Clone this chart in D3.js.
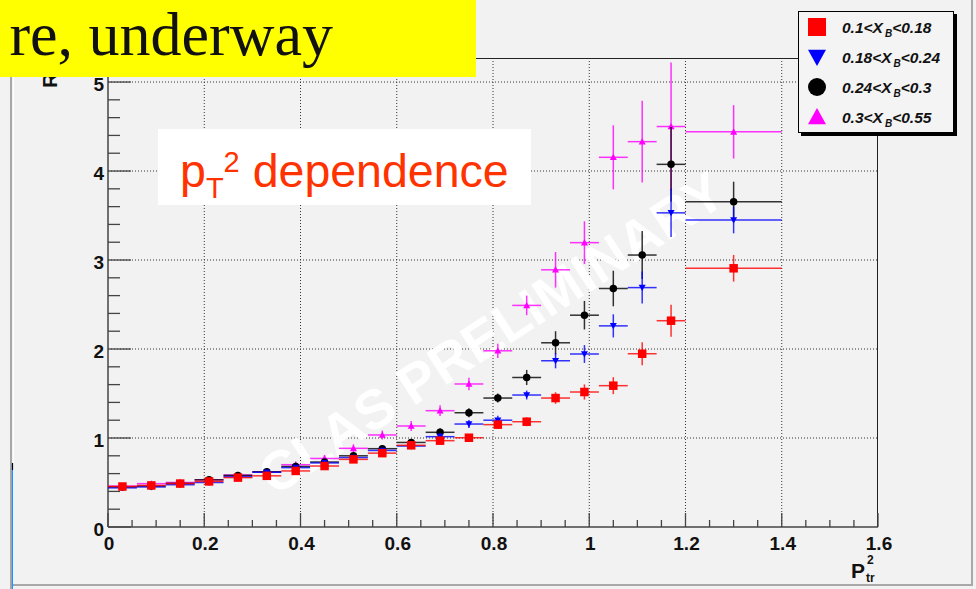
<!DOCTYPE html>
<html><head><meta charset="utf-8">
<script src="https://cdn.jsdelivr.net/npm/d3@7"></script>
<style>html,body{margin:0;padding:0;background:#f2f2f2;}svg{display:block;}</style>
</head><body>
<svg id="c" width="976" height="589"></svg>
<script>
// ---------------- data ----------------
const binCenters = [0.03,0.09,0.15,0.21,0.27,0.33,0.39,0.45,0.51,0.57,0.63,0.69,0.75,0.81,0.87,0.93,0.99,1.05,1.11,1.17,1.30];
const binHalfWidths = [0.03,0.03,0.03,0.03,0.03,0.03,0.03,0.03,0.03,0.03,0.03,0.03,0.03,0.03,0.03,0.03,0.03,0.03,0.03,0.03,0.10];

const seriesNames = ["0.1<X_B<0.18","0.18<X_B<0.24","0.24<X_B<0.3","0.3<X_B<0.55"];
const redValues   = [0.455,0.467,0.488,0.512,0.555,0.575,0.63,0.685,0.76,0.83,0.918,0.97,1.003,1.15,1.183,1.449,1.517,1.588,1.947,2.318,2.907];
const redErrors   = [0.02,0.02,0.02,0.02,0.02,0.02,0.02,0.025,0.025,0.03,0.03,0.035,0.04,0.045,0.05,0.065,0.085,0.095,0.13,0.18,0.15];
const blueValues  = [0.44,0.45,0.475,0.50,0.565,0.615,0.667,0.72,0.78,0.86,0.91,1.015,1.157,1.20,1.483,1.868,1.944,2.26,2.69,3.53,3.45];
const blueErrors  = [0.02,0.02,0.02,0.02,0.02,0.02,0.025,0.025,0.03,0.03,0.035,0.04,0.045,0.05,0.05,0.085,0.10,0.13,0.18,0.27,0.15];
const blackValues = [0.45,0.46,0.49,0.53,0.58,0.62,0.68,0.73,0.80,0.88,0.95,1.064,1.284,1.449,1.68,2.07,2.38,2.68,3.056,4.075,3.655];
const blackErrors = [0.02,0.02,0.02,0.02,0.02,0.025,0.025,0.03,0.03,0.035,0.04,0.045,0.05,0.05,0.085,0.13,0.16,0.20,0.27,0.42,0.225];
const pinkValues  = [0.46,0.487,0.50,0.53,0.584,0.62,0.70,0.77,0.884,1.034,1.135,1.307,1.607,1.98,2.49,2.89,3.195,4.154,4.33,4.50,4.44];
const pinkErrors  = [0.02,0.02,0.025,0.025,0.03,0.03,0.035,0.04,0.045,0.05,0.055,0.06,0.07,0.08,0.11,0.20,0.24,0.36,0.46,0.72,0.30];

const xTickLabels = ["0","0.2","0.4","0.6","0.8","1","1.2","1.4","1.6"];
const yTickLabels = ["0","1","2","3","4","5"];

// ---------------- layout ----------------
const svg = d3.select("#c");
const X0 = 108, X1 = 878, Y0 = 527, Y1 = 58;
const x = d3.scaleLinear().domain([0,1.6]).range([X0,X1]);
const y = d3.scaleLinear().domain([0,5.27]).range([Y0,Y1]);

// canvas background & borders
svg.append("rect").attr("x",0).attr("y",0).attr("width",976).attr("height",589).attr("fill","#f2f2f2");
svg.append("line").attr("x1",11).attr("x2",11).attr("y1",0).attr("y2",589).attr("stroke","#a8a8a8").attr("stroke-width",2);
svg.append("line").attr("x1",13.5).attr("x2",13.5).attr("y1",0).attr("y2",589).attr("stroke","#ffffff").attr("stroke-width",1);
svg.append("line").attr("x1",11).attr("x2",972).attr("y1",585).attr("y2",585).attr("stroke","#a8a8a8").attr("stroke-width",2);
svg.append("line").attr("x1",972).attr("x2",972).attr("y1",0).attr("y2",586).attr("stroke","#a8a8a8").attr("stroke-width",2);
svg.append("line").attr("x1",12.5).attr("x2",12.5).attr("y1",463).attr("y2",589).attr("stroke","#1e90ff").attr("stroke-width",1.2);
svg.append("line").attr("x1",12.5).attr("x2",12.5).attr("y1",463).attr("y2",470).attr("stroke","#000").attr("stroke-width",1.2);

// grid
const g = svg.append("g");
xTickLabels.forEach(t => {
  const v = +t;
  if (v > 0 && v < 1.6) g.append("line").attr("x1",x(v)).attr("x2",x(v)).attr("y1",Y1).attr("y2",Y0)
    .attr("stroke","#333").attr("stroke-width",1).attr("stroke-dasharray","1,2");
});
yTickLabels.forEach(t => {
  const v = +t;
  if (v > 0) g.append("line").attr("x1",X0).attr("x2",X1).attr("y1",y(v)).attr("y2",y(v))
    .attr("stroke","#333").attr("stroke-width",1).attr("stroke-dasharray","1,2");
});

// frame
svg.append("line").attr("x1",X0).attr("x2",X1).attr("y1",Y1+0.5).attr("y2",Y1+0.5).attr("stroke","#222").attr("stroke-width",1);
svg.append("line").attr("x1",X1-0.5).attr("x2",X1-0.5).attr("y1",Y1).attr("y2",Y0).attr("stroke","#222").attr("stroke-width",1);

// watermark
svg.append("text").attr("x",492).attr("y",352)
  .attr("transform","rotate(-33,492,334)")
  .attr("text-anchor","middle")
  .attr("font-family","Liberation Sans, Arial, sans-serif").attr("font-weight","bold").attr("font-size",55)
  .attr("fill","#ffffff").attr("fill-opacity",0.95)
  .text("CLAS PRELIMINARY");

// axes ticks
const ax = svg.append("g");
ax.append("line").attr("x1",X0).attr("x2",X1).attr("y1",Y0).attr("y2",Y0).attr("stroke","#444").attr("stroke-width",1.5);
ax.append("line").attr("x1",X0).attr("x2",X0).attr("y1",Y1).attr("y2",Y0).attr("stroke","#444").attr("stroke-width",1.5);
const xMinor = d3.range(0,1.6001,0.05);
xMinor.forEach((v,i) => {
  const major = (i % 4 === 0);
  ax.append("line").attr("x1",x(v)).attr("x2",x(v)).attr("y1",Y0).attr("y2",Y0-(major?14:7))
    .attr("stroke","#444").attr("stroke-width",1.3);
});
const yMinor = d3.range(0,5.27,0.2);
yMinor.forEach((v,i) => {
  const major = (i % 5 === 0);
  ax.append("line").attr("x1",X0).attr("x2",X0+(major?23:12)).attr("y1",y(v)).attr("y2",y(v))
    .attr("stroke","#444").attr("stroke-width",1.3);
});
xTickLabels.forEach(t => {
  ax.append("text").attr("x",x(+t)+1).attr("y",550).attr("text-anchor","middle")
    .attr("font-family","Liberation Sans, Arial, sans-serif").attr("font-weight","bold").attr("font-size",19)
    .attr("fill","#111").text(t);
});
yTickLabels.forEach(t => {
  ax.append("text").attr("x",104).attr("y",y(+t)+8.5).attr("text-anchor","end")
    .attr("font-family","Liberation Sans, Arial, sans-serif").attr("font-weight","bold").attr("font-size",19)
    .attr("fill","#111").text(t);
});
// axis titles
ax.append("text").attr("x",851).attr("y",578).attr("font-family","Liberation Sans, Arial, sans-serif").attr("font-weight","bold").attr("font-size",21).attr("fill","#111").text("P");
ax.append("text").attr("x",867).attr("y",564).attr("font-family","Liberation Sans, Arial, sans-serif").attr("font-weight","bold").attr("font-size",12).attr("fill","#111").text("2");
ax.append("text").attr("x",866).attr("y",582).attr("font-family","Liberation Sans, Arial, sans-serif").attr("font-weight","bold").attr("font-size",12).attr("fill","#111").text("tr");
ax.append("text").attr("transform","translate(57,88) rotate(-90)")
  .attr("font-family","Liberation Sans, Arial, sans-serif").attr("font-weight","bold").attr("font-size",21)
  .attr("fill","#111").text("R");

// ---------------- series ----------------
const series = [
  {name: seriesNames[3], vals: pinkValues,  errs: pinkErrors,  color:"#ff00ff", shape:"tri-up"},
  {name: seriesNames[2], vals: blackValues, errs: blackErrors, color:"#000000", shape:"circle"},
  {name: seriesNames[1], vals: blueValues,  errs: blueErrors,  color:"#0000ff", shape:"tri-down"},
  {name: seriesNames[0], vals: redValues,   errs: redErrors,   color:"#ff0000", shape:"square"}
];
function marker(sel, shape, cx, cy, s, color){
  if (shape === "square") {
    sel.append("rect").attr("x",cx-s/2).attr("y",cy-s/2).attr("width",s).attr("height",s).attr("fill",color);
  } else if (shape === "circle") {
    sel.append("circle").attr("cx",cx).attr("cy",cy).attr("r",s/2).attr("fill",color);
  } else if (shape === "tri-up") {
    sel.append("path").attr("d",`M${cx-s/2},${cy+s*0.4}L${cx+s/2},${cy+s*0.4}L${cx},${cy-s*0.5}Z`).attr("fill",color);
  } else {
    sel.append("path").attr("d",`M${cx-s/2},${cy-s*0.4}L${cx+s/2},${cy-s*0.4}L${cx},${cy+s*0.5}Z`).attr("fill",color);
  }
}
const plot = svg.append("g");
series.forEach(s => {
  const sg = plot.append("g");
  binCenters.forEach((c,i) => {
    const v = s.vals[i], e = s.errs[i], hw = binHalfWidths[i];
    sg.append("line").attr("x1",x(c-hw)).attr("x2",x(c+hw)).attr("y1",y(v)).attr("y2",y(v))
      .attr("stroke",s.color).attr("stroke-width",1.5).attr("stroke-opacity",0.8);
    sg.append("line").attr("x1",x(c)).attr("x2",x(c)).attr("y1",y(v-e)).attr("y2",y(v+e))
      .attr("stroke",s.color).attr("stroke-width",1.5).attr("stroke-opacity",0.8);
  });
  binCenters.forEach((c,i) => {
    const sz = s.shape === "square" ? 8.5 : (s.shape === "circle" ? 7.5 : 7);
    marker(sg, s.shape, x(c), y(s.vals[i]), sz, s.color);
  });
});

// ---------------- p_T^2 dependence box ----------------
svg.append("rect").attr("x",158).attr("y",129).attr("width",373).attr("height",76).attr("fill","#ffffff");
const ann = svg.append("text").attr("font-family","Liberation Sans, Arial, sans-serif").attr("fill","#ff3300");
ann.append("tspan").attr("x",180).attr("y",187).attr("font-size",46.5).text("p");
ann.append("tspan").attr("dy",11).attr("font-size",29).text("T");
ann.append("tspan").attr("dy",-26).attr("font-size",29).text("2");
ann.append("tspan").attr("dy",15).attr("font-size",46.5).text(" dependence");

// ---------------- legend ----------------
const lg = svg.append("g");
lg.append("rect").attr("x",801).attr("y",14).attr("width",156).attr("height",122).attr("fill","#000");
lg.append("rect").attr("x",798.5).attr("y",11.5).attr("width",155).attr("height",121).attr("fill","#f4f4f4").attr("stroke","#000").attr("stroke-width",1);
const legendOrder = [series[3],series[2],series[1],series[0]];
legendOrder.forEach((s,i) => {
  const cy = 27 + i*30;
  marker(lg, s.shape, 817, cy, 18, s.color);
  const parts = s.name.split("_B");
  const t = lg.append("text").attr("x",842).attr("y",cy+6)
    .attr("font-family","Liberation Sans, Arial, sans-serif").attr("font-weight","bold").attr("font-style","italic")
    .attr("font-size",15.5).attr("fill","#111");
  t.append("tspan").text(parts[0]);
  t.append("tspan").attr("dx",2).attr("dy",4).attr("font-size",10).text("B");
  t.append("tspan").attr("dy",-4).text(parts[1]);
});

// ---------------- yellow title box ----------------
svg.append("rect").attr("x",0).attr("y",0).attr("width",476).attr("height",77).attr("fill","#ffff00");
svg.append("text").attr("x",333).attr("y",55).attr("text-anchor","end")
  .attr("font-family","Liberation Serif, Times New Roman, serif").attr("font-size",62).attr("fill","#111")
  .text("re, underway");
</script>
</body></html>
